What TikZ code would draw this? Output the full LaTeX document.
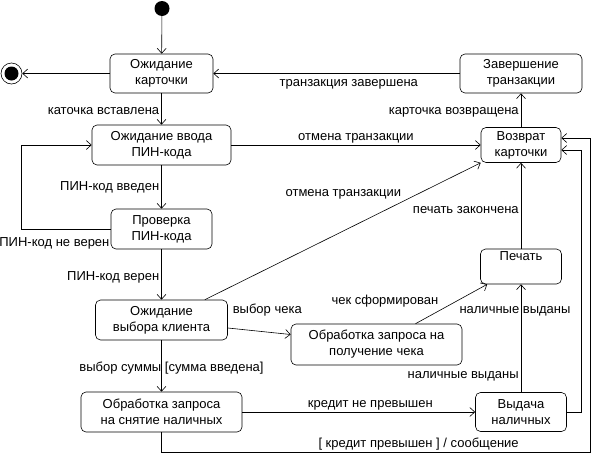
\documentclass[tikz,border=0pt]{standalone}
\usepackage{fontspec}
\setmainfont{Liberation Sans}
\usetikzlibrary{arrows.meta}

\begin{document}
\begin{tikzpicture}[x=1pt,y=-1pt,>={Straight Barb[length=5pt,width=9pt]},
  font=\fontsize{13}{16}\selectfont,line width=0.6pt,
  state/.style={draw,rounded corners=5pt,align=center,inner sep=1pt},
  lbl/.style={inner sep=2pt}]

\useasboundingbox (0,0) rectangle (592,453);

% Initial and final states
\fill (162,8.5) circle (7.5);
\node[inner sep=0pt] (start) at (162,8.5) {};
\draw (11.5,73.5) circle (10.5);
\fill (11.5,73.5) circle (7);
\node[circle,minimum size=21pt,inner sep=0pt] (stop) at (11.5,73.5) {};

% States
\node[state,minimum width=103pt,minimum height=39pt] (wcard) at (161.5,73.5) {Ожидание\\карточки};
\node[state,minimum width=122pt,minimum height=39pt] (done) at (521,73.5) {Завершение\\транзакции};
\node[state,minimum width=139pt,minimum height=40pt] (wpin) at (161.5,145) {Ожидание ввода\\ПИН-кода};
\node[state,minimum width=80pt,minimum height=35pt] (ret) at (521,145) {Возврат\\карточки};
\node[state,minimum width=101pt,minimum height=40pt] (check) at (161.5,229) {Проверка\\ПИН-кода};
\node[state,minimum width=132pt,minimum height=40pt] (wsel) at (161.5,320) {Ожидание\\выбора клиента};
\node[state,minimum width=171pt,minimum height=41pt] (reqcheck) at (376.5,344.5) {Обработка запроса на\\получение чека};
\node[state,minimum width=81pt,minimum height=35pt] (print) at (521,266.5) {Печать\\\strut};
\node[state,minimum width=161pt,minimum height=40pt] (wcash) at (161.5,412) {Обработка запроса\\на снятие наличных};
\node[state,minimum width=91pt,minimum height=39pt] (cash) at (521,412) {Выдача\\наличных};

% Transitions
\draw[->] (start) -- (wcard);
\draw[->] (wcard) -- (stop);
\draw[->] (done) -- node[lbl,below,pos=0.45,yshift=-4pt] {транзакция завершена} (wcard);
\draw[->] (wcard) -- node[lbl,left,pos=0.55] {каточка вставлена} (wpin);
\draw[->] (wpin) -- node[lbl,above] {отмена транзакции} (ret);
\draw[->] (ret) -- node[lbl,left,pos=0.45] {карточка возвращена} (done);
\draw[->] (wpin) -- node[lbl,left] {ПИН-код введен} (check);
\draw[->] (check.west) -- ++(-89,0) node[pos=0,inner sep=0pt,anchor=north east,yshift=-8pt,xshift=-1pt] {ПИН-код не верен} |- (wpin.west);
\draw[->] (check) -- node[lbl,left,pos=0.55] {ПИН-код верен} (wsel);
\draw[->] ([xshift=-23pt]wsel.north east) -- node[lbl,pos=0.72,anchor=south east] {отмена транзакции} (ret.south west);
\draw[->] (print) -- node[lbl,left,pos=0.45] {печать закончена} (ret);
\draw[->] ([yshift=-8pt]wsel.east) -- node[lbl,above,yshift=13pt,xshift=8pt] {выбор чека} ([yshift=10pt]reqcheck.west);
\draw[->] ([xshift=39pt]reqcheck.north) -- node[lbl,pos=0.35,anchor=south east] {чек сформирован} ([xshift=7pt]print.south west);
\draw[->] (wsel) -- node[lbl,xshift=10pt,pos=0.55] {выбор суммы [сумма введена]} (wcash);
\draw[->] (wcash) -- node[lbl,above,pos=0.55] {кредит не превышен} (cash);
\draw[->] (cash) -- node[lbl,left,pos=0.15] {наличные выданы}
  node[lbl,pos=0.75,xshift=-6pt] {наличные выданы} (print);
\draw[->] (cash.east) -- ++(14,0) |- ([yshift=-5pt]ret.east);
\coordinate (corner) at (590,452);
\draw[->] (wcash.south) |- node[lbl,above,pos=0.8] {[ кредит превышен ] / сообщение} (corner) |- ([yshift=7pt]ret.east);

\end{tikzpicture}
\end{document}
